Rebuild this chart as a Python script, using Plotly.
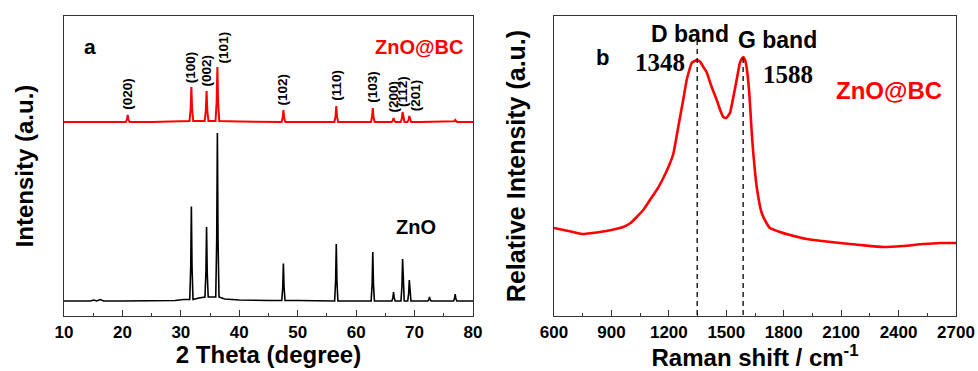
import plotly.graph_objects as go

# ---------------- data ----------------
# XRD (panel a)
xrd_peaks = [20.9, 31.8, 34.4, 36.25, 47.55, 56.6, 62.85, 66.4, 67.95, 69.1, 72.55, 76.95]
xrd_znobc_h = [7, 34, 30, 54, 12, 16, 14, 4, 10, 6, 0, 2]
xrd_zno_h = [0, 93, 70, 164, 37, 57, 49, 9, 42, 21, 4, 7]
miller_labels = ["(020)", "(100)", "(002)", "(101)", "(102)", "(110)", "(103)", "(200)", "(112)", "(201)", "", ""]

zno_base_x = [10, 14.5, 15.1, 15.6, 16.2, 16.8, 20, 25, 29, 30.5, 33.1, 35.3, 37.5, 40, 45, 50, 55, 60, 65, 70.5, 75, 80]
zno_base_y = [15, 15, 16, 15, 16.5, 15, 15, 15.5, 15.5, 16.5, 18, 19, 17, 16, 15.5, 15.5, 15, 15, 15, 15, 15, 15]
znobc_base_x = [10, 15, 20, 25, 30, 33.1, 35.3, 40, 45, 50, 55, 60, 65, 71, 75, 80]
znobc_base_y = [194, 194, 194, 194, 194.5, 195, 195, 194.5, 194, 194, 194, 194, 194, 194, 194, 194]

# Raman (panel b)
raman_shift = [600, 650, 700, 753, 800, 840, 900, 962, 1000, 1032, 1070, 1101, 1140, 1171, 1200, 1223,
               1250, 1275, 1293, 1307, 1319, 1335, 1348, 1365, 1380, 1397, 1420, 1450, 1470, 1484,
               1500, 1519, 1540, 1554, 1571, 1580, 1589, 1598, 1606, 1620, 1633, 1641, 1659, 1685,
               1710, 1728, 1780, 1833, 1920, 2000, 2094, 2200, 2321, 2420, 2530, 2620, 2700]
raman_int = [88, 86, 84, 82, 83, 84, 86, 89, 93, 99, 107, 116, 127, 138, 150, 162,
             190, 216, 236, 246, 253, 255, 256, 254, 249, 244, 231, 216, 205, 199,
             198, 203, 222, 236, 253, 257, 259, 256, 249, 223, 183, 163, 129, 103,
             93, 88, 84, 81, 77, 75, 73, 71, 69, 70, 72, 73, 73]
band_pos = [1348, 1588]
band_names = ["D band", "G band"]

# ---------------- helpers ----------------
W, H = 978, 371
def px(x):
    return x / W
def py(y):
    return 1 - y / H

def build_curve(base_x, base_y, peaks, heights, half):
    pts = list(zip(base_x, base_y))
    for p, h in zip(peaks, heights):
        if h <= 0:
            continue
        b = min(zip(base_x, base_y), key=lambda t: abs(t[0] - p))[1]
        pts += [(p - half, b), (p - half * 0.4, b + h * 0.35), (p, b + h),
                (p + half * 0.4, b + h * 0.35), (p + half, b)]
    pts.sort(key=lambda t: t[0])
    return [t[0] for t in pts], [t[1] for t in pts]

zx, zy = build_curve(zno_base_x, zno_base_y, xrd_peaks, xrd_zno_h, 0.28)
rx, ry = build_curve(znobc_base_x, znobc_base_y, xrd_peaks, xrd_znobc_h, 0.32)

FONT = "Liberation Sans, Arial, sans-serif"
SERIF = "Liberation Serif, Times New Roman, serif"
AX = "#333333"

fig = go.Figure()
fig.add_trace(go.Scatter(x=zx, y=zy, mode="lines", line=dict(color="black", width=1.6),
                         xaxis="x", yaxis="y", showlegend=False))
fig.add_trace(go.Scatter(x=rx, y=ry, mode="lines", line=dict(color="#ff0000", width=2),
                         xaxis="x", yaxis="y", showlegend=False))
fig.add_trace(go.Scatter(x=raman_shift, y=raman_int, mode="lines", line=dict(color="#ff0000", width=2.6, shape="spline", smoothing=0.5),
                         xaxis="x2", yaxis="y2", showlegend=False))

band_tops = [276, 261]
for bp, top in zip(band_pos, band_tops):
    fig.add_shape(type="line", xref="x2", yref="y2", x0=bp, x1=bp, y0=1, y1=top,
                  line=dict(color="black", width=1.3, dash="5px,4px"))

ann = []
xshifts = {"(101)": 7, "(201)": 7}
for p, h, lab in zip(xrd_peaks, xrd_znobc_h, miller_labels):
    if not lab:
        continue
    ann.append(dict(x=p, y=194 + h + 3, xref="x", yref="y", text=lab, textangle=-90,
                    showarrow=False, xanchor="center", yanchor="bottom",
                    xshift=xshifts.get(lab, 0),
                    font=dict(family=FONT, size=13.5, color="black", weight="bold")))

def txt(x, y, text, size, color="black", family=FONT, xref="paper", xshift=0):
    return dict(x=x, y=y, xref=xref, yref="paper", text=text, showarrow=False,
                xanchor="center", yanchor="middle", xshift=xshift,
                font=dict(family=family, size=size, color=color, weight="bold"))

ann += [
    txt(px(90), py(47), "a", 21),
    txt(px(419), py(47), "ZnO@BC", 20, color="#ff0000"),
    txt(px(416), py(227), "ZnO", 20),
    txt(px(602), py(57), "b", 22),
    txt(band_pos[0], py(34), band_names[0], 23, xref="x2", xshift=-7),
    txt(band_pos[1], py(40), band_names[1], 23, xref="x2", xshift=34),
    txt(band_pos[0], py(62), str(band_pos[0]), 25, family=SERIF, xref="x2", xshift=-37),
    txt(band_pos[1], py(75), str(band_pos[1]), 25, family=SERIF, xref="x2", xshift=45),
    txt(px(889), py(90), "ZnO@BC", 24, color="#ff0000"),
]

ydom = [py(316), py(16)]
common_x = dict(showline=True, linecolor=AX, linewidth=1.2, mirror=True, ticks="inside",
                ticklen=6, tickcolor=AX, tickwidth=1.2, showgrid=False, zeroline=False,
                tickfont=dict(family=FONT, size=17, color="black", weight="bold"),
                automargin=False)
common_y = dict(showline=True, linecolor=AX, linewidth=1.2, mirror=True, ticks="",
                showticklabels=False, showgrid=False, zeroline=False, automargin=False,
                range=[0, 300])

fig.update_layout(
    width=W, height=H, margin=dict(l=0, r=0, t=0, b=0),
    paper_bgcolor="white", plot_bgcolor="white",
    xaxis=dict(domain=[px(64), px(473)], range=[10, 80], dtick=10, anchor="y",
               minor=dict(ticks="inside", ticklen=3, dtick=5, tickcolor=AX, tickwidth=1.2, showgrid=False),
               title=dict(text="2 Theta (degree)", standoff=2,
                          font=dict(family=FONT, size=24, color="black", weight="bold")),
               **common_x),
    yaxis=dict(domain=ydom, anchor="x",
               title=dict(text="Intensity (a.u.)", standoff=22,
                          font=dict(family=FONT, size=24, color="black", weight="bold")),
               **common_y),
    xaxis2=dict(domain=[px(554), px(956)], range=[600, 2700], dtick=300, anchor="y2",
                minor=dict(ticks="inside", ticklen=3, dtick=150, tickcolor=AX, tickwidth=1.2, showgrid=False),
                title=dict(text="Raman shift / cm<sup>-1</sup>", standoff=2,
                           font=dict(family=FONT, size=24, color="black", weight="bold")),
                **common_x),
    yaxis2=dict(domain=ydom, anchor="x2",
                title=dict(text="Relative Intensity (a.u.)", standoff=20,
                           font=dict(family=FONT, size=25, color="black", weight="bold")),
                **common_y),
    annotations=ann,
)

fig.write_html("out.html", config={"displayModeBar": False},
               post_script="document.body.style.margin='0';document.body.style.overflow='hidden';")
